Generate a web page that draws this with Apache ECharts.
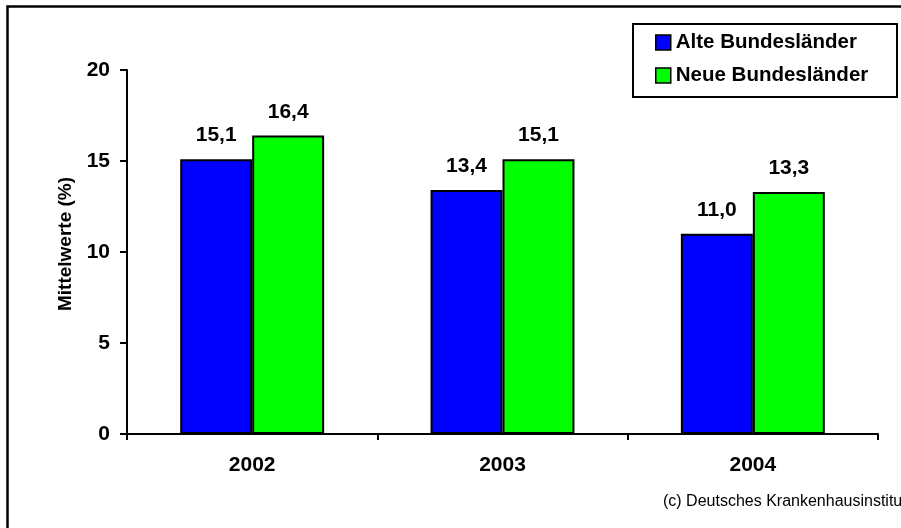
<!DOCTYPE html>
<html>
<head>
<meta charset="utf-8">
<script src="https://cdn.jsdelivr.net/npm/echarts@6/dist/echarts.min.js"></script>
<style>
  html, body { margin: 0; padding: 0; background: #fff; }
  #chart { width: 901px; height: 528px; }
</style>
</head>
<body>
<div id="chart"></div>
<script>
// Mittelwerte je Jahr, alte vs. neue Bundesländer
const years = ['2002', '2003', '2004'];
const alteBundeslaender = [15.1, 13.4, 11.0];
const neueBundeslaender = [16.4, 15.1, 13.3];
const yTicks = [0, 5, 10, 15, 20];

const FONT = "'Liberation Sans', Arial, sans-serif";
const fmt = v => v.toFixed(1).replace('.', ',');

const chart = echarts.init(document.getElementById('chart'), null, { renderer: 'canvas' });

const labelStyle = {
  show: true,
  position: 'top',
  distance: 13,
  fontFamily: FONT,
  fontWeight: 'bold',
  fontSize: 21,
  color: '#000',
  formatter: p => fmt(p.value)
};

chart.setOption({
  animation: false,
  backgroundColor: '#fff',
  grid: { left: 127, right: 23, top: 70, bottom: 94, containLabel: false },
  legend: {
    left: 655,
    top: 32,
    orient: 'vertical',
    itemWidth: 15,
    itemHeight: 15,
    itemGap: 12,
    padding: 0,
    icon: 'rect',
    textStyle: { fontFamily: FONT, fontWeight: 'bold', fontSize: 20.5, color: '#000', lineHeight: 20 },
    itemStyle: { borderColor: '#000', borderWidth: 1.5 },
    data: ['Alte Bundesländer', 'Neue Bundesländer']
  },
  xAxis: {
    type: 'category',
    data: years,
    axisLine: { lineStyle: { color: '#000', width: 2 } },
    axisTick: { show: true, length: 6, lineStyle: { color: '#000', width: 2 } },
    axisLabel: { margin: 21, fontFamily: FONT, fontWeight: 'bold', fontSize: 21, color: '#000' },
    splitLine: { show: false }
  },
  yAxis: {
    type: 'value',
    min: yTicks[0],
    max: yTicks[yTicks.length - 1],
    interval: 5,
    name: 'Mittelwerte (%)',
    nameLocation: 'middle',
    nameGap: 52,
    nameTextStyle: { fontFamily: FONT, fontWeight: 'bold', fontSize: 19, color: '#000', padding: [0, 0, 0, 16] },
    axisLine: { show: true, lineStyle: { color: '#000', width: 2 } },
    axisTick: { show: true, length: 7, lineStyle: { color: '#000', width: 2 } },
    axisLabel: { margin: 17, fontFamily: FONT, fontWeight: 'bold', fontSize: 21, color: '#000' },
    splitLine: { show: false }
  },
  series: [
    {
      name: 'Alte Bundesländer',
      type: 'bar',
      data: alteBundeslaender,
      barGap: '0%',
      barCategoryGap: '42.5%',
      itemStyle: { color: '#0000ff', borderColor: '#000', borderWidth: 2 },
      label: labelStyle
    },
    {
      name: 'Neue Bundesländer',
      type: 'bar',
      data: neueBundeslaender,
      barGap: '0%',
      barCategoryGap: '42.5%',
      itemStyle: { color: '#00ff00', borderColor: '#000', borderWidth: 2 },
      label: labelStyle
    }
  ],
  graphic: [
    {
      // outer frame, open to the right and bottom
      type: 'rect',
      shape: { x: 7.5, y: 6.5, width: 1200, height: 1200 },
      style: { fill: 'none', stroke: '#000', lineWidth: 2.5 },
      silent: true,
      z: 10
    },
    {
      // legend box
      type: 'rect',
      shape: { x: 633, y: 24, width: 264, height: 73 },
      style: { fill: '#fff', stroke: '#000', lineWidth: 2 },
      silent: true,
      z: 0
    },
    {
      type: 'text',
      left: 663,
      top: 494,
      style: {
        text: '(c) Deutsches Krankenhausinstitut',
        fontFamily: FONT,
        fontSize: 16,
        fill: '#000'
      },
      silent: true
    }
  ]
});
</script>
</body>
</html>
